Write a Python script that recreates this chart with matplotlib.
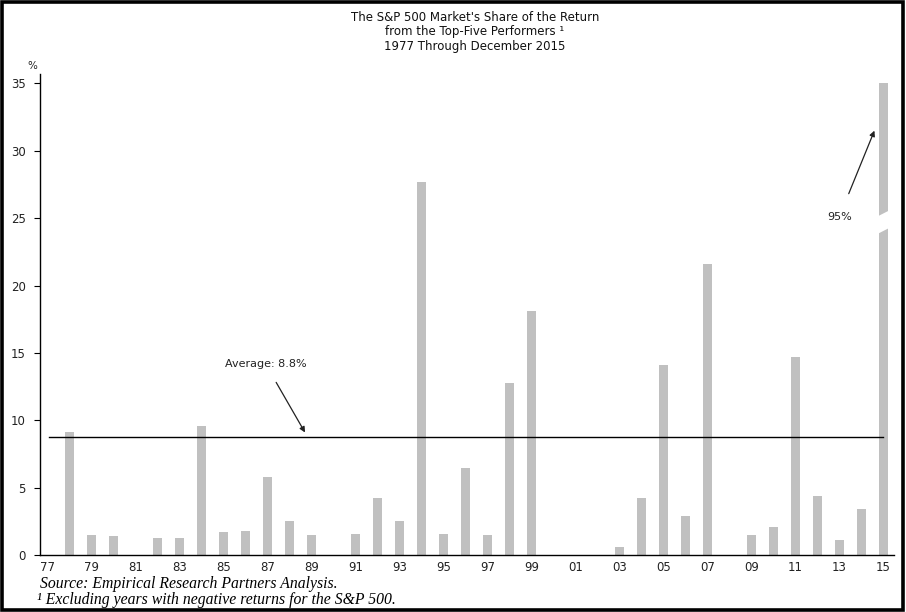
import numpy as np
import matplotlib.pyplot as plt
from matplotlib.patches import Rectangle, Polygon

# S&P 500 share of return from top-five performers, 1977-2015 (%)
years = np.arange(1977, 2016)
share = [0, 9.1, 1.5, 1.4, 0, 1.3, 1.3, 9.6, 1.7, 1.8,
         5.8, 2.5, 1.5, 0, 1.6, 4.2, 2.5, 27.7, 1.6, 6.5,
         1.5, 12.8, 18.1, 0, 0, 0, 0.6, 4.2, 14.1, 2.9,
         21.6, 0, 1.5, 2.1, 14.7, 4.4, 1.1, 3.4, 95]
average = 8.8
y_cap = 35
tick_years = years[::2]
tick_labels = ['%02d' % (y % 100) for y in tick_years]

fig = plt.figure(figsize=(9.06, 6.12), dpi=100)
ax = fig.add_axes([0.044, 0.093, 0.943, 0.786])

shown = np.minimum(share, y_cap)
ax.bar(years, shown, width=0.43, color='#c0c0c0', zorder=2)

# break mark on the clipped 2015 bar
xb = years[-1]
brk = Polygon([(xb - 0.3, 23.8), (xb + 0.3, 24.3), (xb + 0.3, 25.6), (xb - 0.3, 25.1)],
              closed=True, facecolor='white', edgecolor='none', zorder=3)
ax.add_patch(brk)

ax.plot([years[0] + 0.05, years[-1]], [average, average], color='black', lw=1, zorder=4)

ax.annotate('Average: 8.8%', xy=(1988.7, 9.1), xytext=(1986.9, 14.2),
            ha='center', va='center', fontsize=8, color='#222222',
            arrowprops=dict(arrowstyle='-|>', color='#222222', lw=0.9,
                            shrinkA=9, shrinkB=0, mutation_scale=8))
ax.annotate('95%', xy=(2014.6, 31.5), xytext=(2013.0, 25.1),
            ha='center', va='center', fontsize=8, color='#222222',
            arrowprops=dict(arrowstyle='-|>', color='#222222', lw=0.9,
                            shrinkA=12, shrinkB=0, mutation_scale=8))

ax.set_xlim(1976.64, 2015.5)
ax.set_ylim(0, 35.7)
ax.set_yticks(range(0, 36, 5))
ax.set_xticks(tick_years)
ax.set_xticklabels(tick_labels)
ax.tick_params(axis='x', length=0, pad=4, labelsize=8.5)
ax.tick_params(axis='y', length=4, direction='out', width=0.8, labelsize=8.5, pad=6)
ax.tick_params(axis='both', colors='black', labelcolor='#222222')
for s in ['top', 'right']:
    ax.spines[s].set_visible(False)
for s in ['left', 'bottom']:
    ax.spines[s].set_linewidth(1)

fig.text(0.036, 0.892, '%', fontsize=7.5, ha='center', va='center', color='#222222')

fig.text(0.524, 0.972, "The S&P 500 Market's Share of the Return", ha='center',
         va='center', fontsize=8.5, color='#111111')
fig.text(0.524, 0.948, "from the Top-Five Performers \u00b9", ha='center',
         va='center', fontsize=8.5, color='#111111')
fig.text(0.524, 0.924, "1977 Through December 2015", ha='center',
         va='center', fontsize=8.5, color='#111111')

fig.text(0.044, 0.046, 'Source: Empirical Research Partners Analysis.',
         family='Liberation Serif', style='italic', fontsize=11.3, va='center')
fig.text(0.041, 0.019, '\u00b9 Excluding years with negative returns for the S&P 500.',
         family='Liberation Serif', style='italic', fontsize=11.3, va='center')

# thick frame round the whole picture
fig.patches.append(Rectangle((0.0017, 0.0025), 0.9955, 0.995, transform=fig.transFigure,
                             fill=False, edgecolor='black', lw=2.6))

fig.savefig('out.png', dpi=100)
